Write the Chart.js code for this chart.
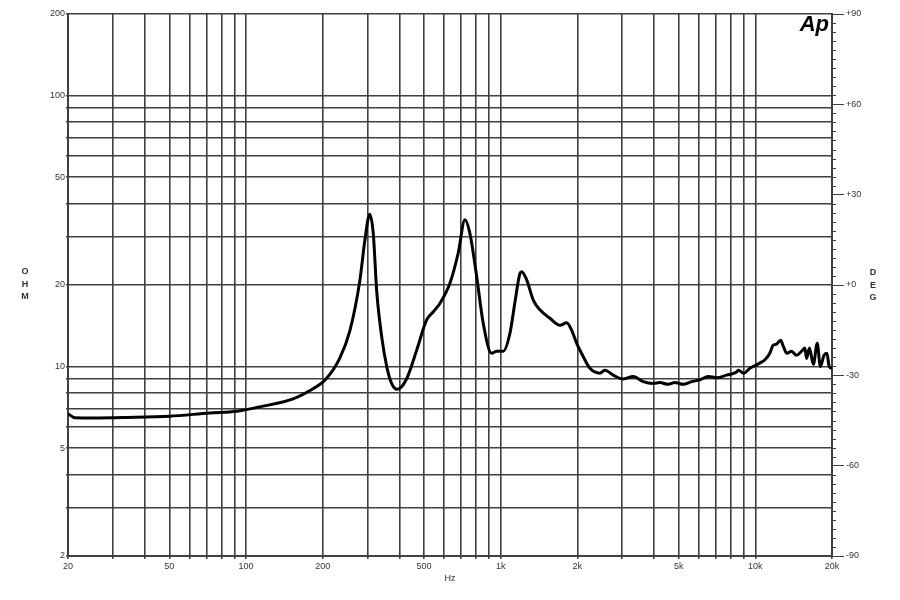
<!DOCTYPE html>
<html>
<head>
<meta charset="utf-8">
<script src="https://cdn.jsdelivr.net/npm/chart.js@4/dist/chart.umd.min.js"></script>
<style>
html,body{margin:0;padding:0;background:#fff;}
#wrap{width:900px;height:600px;position:relative;}
</style>
</head>
<body>
<div id="wrap"><canvas id="c" width="900" height="600"></canvas></div>
<script>
// Impedance magnitude curve (Hz -> Ohm)
const freqs = [20, 21.3, 25, 34, 50, 72, 92, 113, 153, 184, 204, 233, 256, 280, 293, 306, 316, 326, 341, 357, 373, 392,
  427, 468, 512, 544, 577, 632, 681, 724, 757, 805, 854, 921, 964, 1024, 1088, 1138, 1191, 1209, 1265, 1343, 1426,
  1561, 1709, 1816, 1901, 1987, 2110, 2242, 2454, 2566, 2767, 3028, 3316, 3630, 3975, 4220, 4550, 4830, 5210,
  5620, 6060, 6530, 7050, 7710, 8440, 8570, 9000, 9520, 10400, 10900, 11400, 11750, 12100, 12570, 12870, 13300,
  13880, 14500, 15200, 15650, 15900, 16300, 16900, 17500, 18000, 18600, 19100, 19500, 20000];
const ohms = [6.7, 6.47, 6.46, 6.49, 6.56, 6.74, 6.84, 7.1, 7.6, 8.3, 8.9, 10.7, 13.6, 20.8, 29.3, 36.5, 31, 19, 12.9, 10.0, 8.67, 8.24,
  9.0, 11.5, 14.86, 15.94, 17.1, 20.3, 26.2, 34.8, 31.0, 21.5, 14.45, 11.2, 11.4, 11.4, 13.3, 17.3, 22.1, 22.4, 20.9, 17.6, 16.2,
  15.07, 14.2, 14.5, 13.6, 12.2, 10.88, 9.85, 9.45, 9.7, 9.3, 9.0, 9.2, 8.8, 8.67, 8.73, 8.6, 8.73, 8.6,
  8.8, 8.93, 9.2, 9.1, 9.3, 9.55, 9.7, 9.45, 9.85, 10.3, 10.6, 11.2, 12.0, 12.1, 12.5, 11.9, 11.2,
  11.4, 11.0, 11.4, 11.7, 10.7, 11.7, 10.2, 12.2, 10.0, 11.0, 11.2, 10.0, 9.85];

// Axis ticks
const xGridTicks = [20,30,40,50,60,70,80,90,100,200,300,400,500,600,700,800,900,1000,2000,3000,4000,5000,6000,7000,8000,9000,10000,20000];
const xLabelTicks = {20:'20',50:'50',100:'100',200:'200',500:'500',1000:'1k',2000:'2k',5000:'5k',10000:'10k',20000:'20k'};
const yGridTicks = [2,3,4,5,6,7,8,9,10,20,30,40,50,60,70,80,90,100,200];
const yLabelTicks = {2:'2',5:'5',10:'10',20:'20',50:'50',100:'100',200:'200'};
const phaseTicks = [-90,-60,-30,0,30,60,90];
const phaseLabels = ['-90','-60','-30','+0','+30','+60','+90'];
const phaseMinorStep = 3;

const GRID = '#404040';
const TXT = '#333';
const FONT = {family:'Liberation Sans', size:9};

const extras = {
  id:'extras',
  afterDraw(chart){
    const ctx = chart.ctx;
    const r = chart.scales.yR;
    ctx.save();
    ctx.strokeStyle = GRID; ctx.lineWidth = 1;
    for (let v=-90; v<=90; v+=phaseMinorStep){
      if (v % 30 === 0) continue;
      const y = Math.round(r.getPixelForValue(v))+0.5;
      ctx.beginPath(); ctx.moveTo(r.left, y); ctx.lineTo(r.left+4, y); ctx.stroke();
    }
    ctx.fillStyle = TXT;
    ctx.font = 'bold 9px "Liberation Sans"';
    ctx.textAlign = 'center'; ctx.textBaseline = 'middle';
    ['O','H','M'].forEach((ch,i)=>ctx.fillText(ch, 25, 272 + i*12.5));
    ['D','E','G'].forEach((ch,i)=>ctx.fillText(ch, 873, 273 + i*12.5));
    ctx.fillStyle = '#000';
    ctx.font = 'italic bold 22px "Liberation Sans"';
    ctx.textAlign = 'right'; ctx.textBaseline = 'alphabetic';
    ctx.fillText('Ap', 829, 31);
    ctx.restore();
  }
};

new Chart(document.getElementById('c'), {
  type:'line',
  data:{
    datasets:[{
      data: freqs.map((f,i)=>({x:f, y:ohms[i]})),
      borderColor:'#000', borderWidth:3, pointRadius:0, tension:0.35,
      cubicInterpolationMode:'monotone', yAxisID:'y', xAxisID:'x'
    }]
  },
  options:{
    responsive:false, animation:false,
    layout:{padding:{top:14, left:0, right:0, bottom:16}},
    plugins:{legend:{display:false}, tooltip:{enabled:false}},
    scales:{
      x:{
        type:'logarithmic', min:20, max:20000, position:'bottom',
        afterBuildTicks(s){ s.ticks = xGridTicks.map(v=>({value:v})); },
        afterFit(s){ s.height = 28; },
        ticks:{ autoSkip:false, maxRotation:0, color:TXT, font:FONT, padding:2,
          callback(v){ return xLabelTicks[v] || ''; } },
        grid:{ color:GRID, lineWidth:1.6, tickLength:3, tickColor:GRID },
        border:{ color:GRID, width:2 },
        title:{ display:true, text:'Hz', color:TXT, font:FONT, padding:{top:2,bottom:0} }
      },
      y:{
        type:'logarithmic', min:2, max:200, position:'left',
        afterBuildTicks(s){ s.ticks = yGridTicks.map(v=>({value:v})); },
        afterFit(s){ s.width = 68; },
        ticks:{ autoSkip:false, color:TXT, font:FONT, padding:1,
          callback(v){ return yLabelTicks[v] || ''; } },
        grid:{ color:GRID, lineWidth:1.6, tickLength:2, tickColor:GRID },
        border:{ color:GRID, width:2 }
      },
      yR:{
        type:'linear', min:-90, max:90, position:'right',
        afterBuildTicks(s){ s.ticks = phaseTicks.map(v=>({value:v})); },
        afterFit(s){ s.width = 68; },
        ticks:{ autoSkip:false, color:TXT, font:FONT, padding:2,
          callback(v){ return phaseLabels[phaseTicks.indexOf(v)]; } },
        grid:{ drawOnChartArea:false, color:GRID, lineWidth:1, tickLength:12, tickColor:GRID },
        border:{ color:GRID, width:2 }
      }
    }
  },
  plugins:[extras]
});
</script>
</body>
</html>
